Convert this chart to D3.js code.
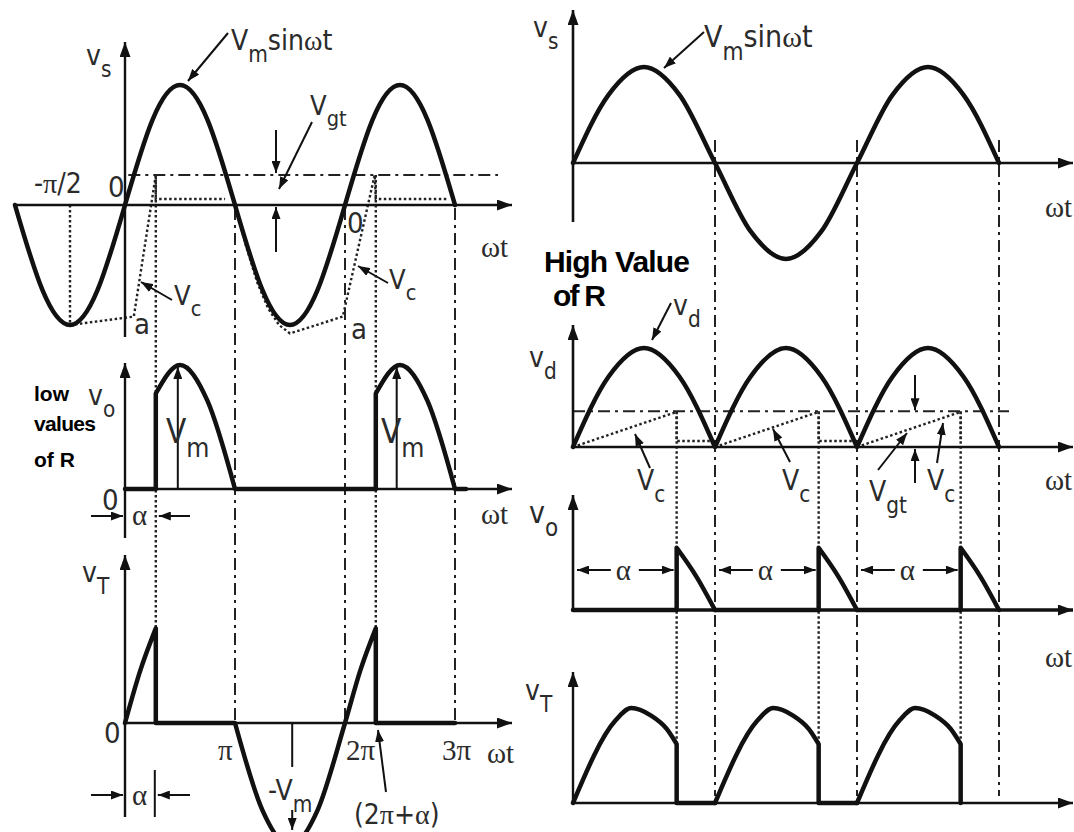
<!DOCTYPE html>
<meta charset="utf-8">
<script src="https://d3js.org/d3.v7.min.js"></script>
<style>
body { margin: 0; background: #fff; }
text { font-family: "DejaVu Sans Condensed", "DejaVu Sans", sans-serif; fill: #2b2b2b; }
.gr { font-family: "Liberation Serif", "DejaVu Serif", serif; }
.bold { font-family: "Liberation Sans", Arial, sans-serif; font-weight: bold; fill: #000; }
</style>
<div id="chart"></div>
<script>
// all ωt values are in multiples of π, voltages in multiples of Vm

// left: low values of R
const alphaL = 0.28, vgtL = 0.25
const vsLT = [-1,-0.75,-0.5,-0.25,0,0.25,0.5,0.75,1,1.25,1.5,1.75,2,2.25,2.5,2.75,3]
const vsLV = [0,-0.71,-1,-0.71,0,0.71,1,0.71,0,-0.71,-1,-0.71,0,0.71,1,0.71,0]
// repeated points mark corners
const voLT = [0,0.28, 0.28,0.5,0.75,1, 1,2.28, 2.28,2.5,2.75,3, 3,3.1]
const voLV = [0,0, 0.77,1,0.71,0, 0,0, 0.77,1,0.71,0, 0,0]
const vtLT = [0,0.14,0.28, 0.28,1, 1,1.25,1.5,1.75,2,2.14,2.28, 2.28,3]
const vtLV = [0,0.43,0.77, 0,0, 0,-0.71,-1,-0.71,0,0.43,0.77, 0,0]
const vc1LT = [-0.5,0.08,0.28,0.28,0.91]
const vc1LV = [-1,-0.93,0.25,0.05,0.05]
const vc2LT = [1,1.1,1.2,1.3,1.4,1.5,1.98,2.27,2.28,2.93]
const vc2LV = [0,-0.34,-0.64,-0.86,-1,-1.07,-0.93,0.25,0.05,0.05]

// right: high value of R
const alphaR = 0.73, vgtR = 0.36
const vsRT = [0,0.25,0.5,0.75,1,1.25,1.5,1.75,2,2.25,2.5,2.75,3]
const vsRV = [0,0.71,1,0.71,0,-0.71,-1,-0.71,0,0.71,1,0.71,0]
const vdRT = [0,0.25,0.5,0.75,1, 1,1.25,1.5,1.75,2, 2,2.25,2.5,2.75,3]
const vdRV = [0,0.71,1,0.71,0, 0,0.71,1,0.71,0, 0,0.71,1,0.71,0]
const cycles = [0, 1, 2]
const voCycT = [0,0.73, 0.73,0.87,1]
const voCycV = [0,0, 0.75,0.4,0]
const vtCycT = [0,0.3,0.41,0.55,0.66,0.73, 0.73,1]
const vtCycV = [0,0.87,1,0.92,0.78,0.62, 0,0]
const vcCycT = [0,0.72,0.73,0.73,1]
const vcCycV = [0,0.35,0.36,0.06,0.06]

const width = 1074, height = 832

const svg = d3.select('#chart').append('svg')
	.attr('width', width).attr('height', height)

const defs = svg.append('defs')
function marker(id, w, h) {
	defs.append('marker').attr('id', id)
		.attr('markerUnits', 'userSpaceOnUse')
		.attr('viewBox', `0 0 ${w} ${h}`)
		.attr('markerWidth', w).attr('markerHeight', h)
		.attr('refX', w).attr('refY', h / 2)
		.attr('orient', 'auto')
		.append('path').attr('d', `M0,0L${w},${h/2}L0,${h}Z`).attr('fill', '#111')
}
marker('axhead', 15, 11)
marker('head', 12, 9)

const xL = d3.scaleLinear().domain([0, 3]).range([125, 455])
const ysL = d3.scaleLinear().domain([-1, 1]).range([325, 85])
const yoL = d3.scaleLinear().domain([0, 1]).range([489, 365])
const ytL = d3.scaleLinear().domain([-1, 1]).range([846, 600])

const xR = d3.scaleLinear().domain([0, 3]).range([573, 999])
const ysR = d3.scaleLinear().domain([-1, 1]).range([259, 67])
const ydR = d3.scaleLinear().domain([0, 1]).range([447, 348])
const yoR = d3.scaleLinear().domain([0, 1]).range([610, 527])
const ytR = d3.scaleLinear().domain([0, 1]).range([803, 708])

const gGuide = svg.append('g')
const gAxis = svg.append('g')
const gWave = svg.append('g')
const gNote = svg.append('g')

function line(g, x1, y1, x2, y2, w, mark) {
	const l = g.append('line')
		.attr('x1', x1).attr('y1', y1).attr('x2', x2).attr('y2', y2)
		.attr('stroke', '#111').attr('stroke-width', w)
	if (mark) l.attr('marker-end', `url(#${mark})`)
	return l
}
const dashdot = (x1, y1, x2, y2) => line(gGuide, x1, y1, x2, y2, 2).attr('stroke-dasharray', '12,5,3,5').attr('stroke', '#222')
const dotted = (x1, y1, x2, y2) => line(gGuide, x1, y1, x2, y2, 2.4).attr('stroke-dasharray', '2.5,2.5').attr('stroke', '#222')

// join runs of rising ωt with a curve, steps with straight segments
function wave(g, T, V, x, y, curve, w) {
	const runs = []
	T.forEach((t, i) => {
		if (i == 0 || t <= T[i - 1]) runs.push([])
		runs[runs.length - 1].push([t, V[i]])
	})
	const gen = d3.line().x(d => x(d[0])).y(d => y(d[1])).curve(curve)
	const d = runs.map((r, i) => {
		const s = r.length > 1 ? gen(r) : `M${x(r[0][0])},${y(r[0][1])}`
		return i ? s.replace(/^M/, 'L') : s
	}).join('')
	return g.append('path').attr('d', d).attr('fill', 'none')
		.attr('stroke', '#111').attr('stroke-width', w)
		.attr('stroke-linejoin', 'round').attr('stroke-linecap', 'round')
}
function dots(T, V, x, y) {
	return gGuide.append('path')
		.attr('d', d3.line().x((d, i) => x(T[i])).y((d, i) => y(V[i]))(T))
		.attr('fill', 'none').attr('stroke', '#222').attr('stroke-width', 2.4)
		.attr('stroke-dasharray', '2.5,2.5')
}
const shift = (T, k) => T.map(t => t + k)

function label(x, y, parts, size, cls) {
	const t = gNote.append('text').attr('x', x).attr('y', y).attr('font-size', size)
	if (cls) t.attr('class', cls)
	let cur = 0
	parts.forEach(([s, kind]) => {
		const sp = t.append('tspan').text(s)
		const target = kind == 'sub' ? size * 0.42 : 0
		if (target != cur) { sp.attr('dy', target - cur); cur = target }
		if (kind == 'sub') sp.attr('font-size', size * 0.8)
		if (kind == 'gr') sp.attr('class', 'gr')
	})
	return t
}

// ---------- left column ----------
// guides
;[1, 2, 3].forEach(k => dashdot(xL(k), ysL(0) + 3, xL(k), ytL(0)))
dotted(xL(-0.5), ysL(0), xL(-0.5), ysL(-1))
;[alphaL, 2 + alphaL].forEach(a => dotted(xL(a), ysL(vgtL), xL(a), ytL(0.77)))
dashdot(xL(0.03), ysL(vgtL), 498, ysL(vgtL))
dots(vc1LT, vc1LV, xL, ysL)
dots(vc2LT, vc2LV, xL, ysL)

// axes
line(gAxis, xL(-1), ysL(0), 512, ysL(0), 2.6, 'axhead')
line(gAxis, xL(0), 337, xL(0), 42, 2.4, 'axhead')
line(gAxis, xL(0), yoL(0), 512, yoL(0), 2.4, 'axhead')
line(gAxis, xL(0), 538, xL(0), 363, 2.4, 'axhead')
line(gAxis, xL(0), ytL(0), 512, ytL(0), 2.4, 'axhead')
line(gAxis, xL(0), 817, xL(0), 555, 2.4, 'axhead')

// waveforms
wave(gWave, vsLT, vsLV, xL, ysL, d3.curveNatural, 4.5)
wave(gWave, voLT, voLV, xL, yoL, d3.curveMonotoneX, 4.5)
wave(gWave, vtLT, vtLV, xL, ytL, d3.curveMonotoneX, 4.5)

// annotations
label(86, 65, [['v'], ['s', 'sub']], 28)
label(231, 50, [['V'], ['m', 'sub'], ['sin'], ['ω', 'gr'], ['t']], 28)
line(gNote, 228, 33, 188, 81, 2, 'head')
label(310, 115, [['V'], ['gt', 'sub']], 27)
line(gNote, 312, 122, 279, 189, 2, 'head')
line(gNote, 276, 130, 276, 173, 2, 'head')
line(gNote, 276, 252, 276, 207, 2, 'head')
label(34, 193, [['-'], ['π', 'gr'], ['/2']], 28)
label(108, 197, [['0']], 29)
label(347, 233, [['0']], 29)
label(481, 257, [['ωt']], 29, 'gr')
label(174, 305, [['V'], ['c', 'sub']], 27)
line(gNote, 172, 300, 141, 282, 2, 'head')
label(389, 289, [['V'], ['c', 'sub']], 27)
line(gNote, 388, 283, 358, 266, 2, 'head')
label(134, 334, [['a']], 29)
label(351, 339, [['a']], 29)

gNote.append('text').attr('class', 'bold').attr('x', 34).attr('y', 401).attr('font-size', 21).text('low')
gNote.append('text').attr('class', 'bold').attr('x', 34).attr('y', 431).attr('font-size', 21).attr('textLength', 62).text('values')
gNote.append('text').attr('class', 'bold').attr('x', 34).attr('y', 467).attr('font-size', 21).text('of R')
label(88, 405, [['v'], ['o', 'sub']], 28)
;[0.48, 2.47].forEach(t => line(gNote, xL(t), yoL(0), xL(t), yoL(1) + 2, 2, 'head'))
label(166, 443, [['V'], ['m', 'sub']], 33)
label(381, 443, [['V'], ['m', 'sub']], 33)
label(102, 510, [['0']], 29)
line(gNote, 91, 516, xL(0) - 2, 516, 2, 'head')
line(gNote, 190, 516, xL(alphaL) + 3, 516, 2, 'head')
label(132, 525, [['α']], 29, 'gr')
label(481, 524, [['ωt']], 29, 'gr')

label(82, 582, [['v'], ['T', 'sub']], 28)
label(104, 743, [['0']], 29)
label(218, 760, [['π']], 29, 'gr')
label(346, 760, [['2π']], 29, 'gr')
label(442, 760, [['3π']], 29, 'gr')
label(487, 763, [['ωt']], 29, 'gr')
line(gNote, xL(1.52), ytL(0), xL(1.52), 767, 2)
line(gNote, xL(1.52), 810, xL(1.52), 830, 2, 'head')
label(268, 800, [['-V'], ['m', 'sub']], 28)
line(gNote, 386, 792, 378, 730, 2, 'head')
label(354, 824, [['(2'], ['π', 'gr'], ['+'], ['α', 'gr'], [')']], 28)
line(gNote, 91, 795, xL(0) - 2, 795, 2, 'head')
line(gNote, 190, 795, xL(alphaL) + 2, 795, 2, 'head')
line(gNote, xL(alphaL) - 1, 770, xL(alphaL) - 1, 817, 2)
label(132, 805, [['α']], 29, 'gr')

// ---------- right column ----------
;[1, 2, 3].forEach(k => dashdot(xR(k), 140, xR(k), 796))
cycles.forEach(k => dotted(xR(k + alphaR), ydR(vgtR), xR(k + alphaR), ytR(0)))
dashdot(xR(0), ydR(vgtR), 1009, ydR(vgtR))
cycles.forEach(k => {
	const n = k == 2 ? 4 : 5
	dots(shift(vcCycT, k).slice(0, n), vcCycV.slice(0, n), xR, ydR)
})

line(gAxis, xR(0), ysR(0), 1073, ysR(0), 2.6, 'axhead')
line(gAxis, xR(0), 222, xR(0), 10, 2.6, 'axhead')
line(gAxis, xR(0), ydR(0), 1073, ydR(0), 2.6, 'axhead')
line(gAxis, xR(0), ydR(0), xR(0), 325, 2.6, 'axhead')
line(gAxis, xR(0), yoR(0), 1073, yoR(0), 3.6, 'axhead')
line(gAxis, xR(0), yoR(0), xR(0), 495, 2.6, 'axhead')
line(gAxis, xR(0), ytR(0), 1073, ytR(0), 2.4, 'axhead')
line(gAxis, xR(0), ytR(0), xR(0), 672, 2.4, 'axhead')

wave(gWave, vsRT, vsRV, xR, ysR, d3.curveMonotoneX, 4.5)
wave(gWave, vdRT, vdRV, xR, ydR, d3.curveMonotoneX, 4.5)
cycles.forEach(k => wave(gWave, shift(voCycT, k), voCycV, xR, yoR, d3.curveMonotoneX, 4.5))
cycles.forEach(k => {
	const n = k == 2 ? 7 : 8
	wave(gWave, shift(vtCycT, k).slice(0, n), vtCycV.slice(0, n), xR, ytR, d3.curveMonotoneX, 4.5)
})

label(533, 37, [['v'], ['s', 'sub']], 28)
label(704, 47, [['V'], ['m', 'sub'], ['sin'], ['ω', 'gr'], ['t']], 30)
line(gNote, 704, 32, 664, 68, 2, 'head')
label(1045, 217, [['ωt']], 29, 'gr')
gNote.append('text').attr('class', 'bold').attr('x', 544).attr('y', 272).attr('font-size', 30).attr('textLength', 146).text('High Value')
gNote.append('text').attr('class', 'bold').attr('x', 553).attr('y', 306).attr('font-size', 30).attr('textLength', 53).text('of R')
label(529, 367, [['v'], ['d', 'sub']], 28)
label(673, 315, [['v'], ['d', 'sub']], 28)
line(gNote, 671, 303, 652, 340, 2, 'head')
label(637, 490, [['V'], ['c', 'sub']], 28)
line(gNote, 650, 468, 635, 434, 2, 'head')
label(782, 490, [['V'], ['c', 'sub']], 28)
line(gNote, 790, 462, 773, 429, 2, 'head')
label(869, 501, [['V'], ['gt', 'sub']], 28)
line(gNote, 878, 470, 907, 433, 2, 'head')
line(gNote, 915, 375, 915, ydR(vgtR) - 1, 2, 'head')
line(gNote, 915, 483, 915, ydR(0) + 2, 2, 'head')
label(927, 490, [['V'], ['c', 'sub']], 28)
line(gNote, 937, 463, 943, 423, 2, 'head')
label(1045, 490, [['ωt']], 29, 'gr')

label(529, 523, [['v'], ['o', 'sub']], 30)
cycles.forEach(k => {
	const c = (xR(k) + xR(k + alphaR)) / 2
	line(gNote, c - 14, 570, xR(k) + 4, 570, 2, 'head')
	line(gNote, c + 14, 570, xR(k + alphaR) - 3, 570, 2, 'head')
	label(c - 9, 580, [['α']], 29, 'gr')
})
label(1045, 667, [['ωt']], 29, 'gr')
label(525, 700, [['v'], ['T', 'sub']], 28)
</script>
